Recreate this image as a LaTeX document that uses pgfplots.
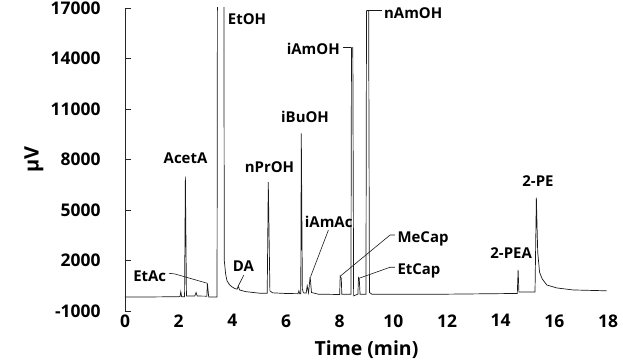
\documentclass[border=0pt]{standalone}
\usepackage{fontspec}
\setmainfont{Open Sans}
\usepackage{pgfplots}
\pgfplotsset{compat=1.18}
\begin{document}
\begin{tikzpicture}
\begin{axis}[
  name=ax,
  scale only axis,
  width=483bp, height=303bp,
  xmin=0, xmax=18, ymin=-1000, ymax=17000,
  axis lines=left,
  x axis line style={draw=none},
  y axis line style={-, draw=black!85, line width=0.8pt},
  xtick={0,2,4,6,8,10,12,14,16,18},
  xticklabels={0,2,4,6,8,10,12,14,16,18},
  x tick style={draw=none},
  ytick={-1000,2000,5000,8000,11000,14000,17000},
  yticklabels={-1000,2000,5000,8000,11000,14000,17000},
  y tick style={draw=black!85, line width=0.8pt},
  tick align=inside,
  major tick length=6bp,
  ticklabel style={font=\fontsize{17.5}{20}\selectfont\bfseries},
  yticklabel style={anchor=east, xshift=-21bp},
  xlabel={Time (min)},
  ylabel={\textmu V},
  every axis x label/.style={at={(rel axis cs:0.5,0)}, yshift=-39bp, anchor=center, font=\fontsize{19.5}{22}\selectfont\bfseries},
  every axis y label/.style={at={(rel axis cs:0,0.5)}, xshift=-91bp, rotate=90, anchor=center, font=\fontsize{20}{22}\selectfont\bfseries},
]
\addplot[black!90, line width=0.7pt, mark=none] coordinates {
(0,-170) (1.0,-165) (2.0,-150) (2.05,-140) (2.08,150) (2.11,-150)
(2.22,-150) (2.25,6980) (2.29,-110) (2.6,-110) (2.65,100) (2.69,-110)
(3.05,-120) (3.07,646) (3.12,-170) (3.43,-170) (3.45,25000) (3.68,25000)
(3.70,2000) (3.75,1200) (3.8,800) (3.9,550) (4.0,420) (4.1,330) (4.18,300)
(4.22,480) (4.27,250) (4.5,150) (5.0,60) (5.3,50) (5.34,6650) (5.4,200)
(5.5,80) (6.0,40) (6.45,30) (6.48,200) (6.51,30) (6.55,30) (6.57,9550)
(6.61,300) (6.65,80) (6.75,60) (6.79,500) (6.84,80) (6.9,1040) (6.95,100)
(7.2,0) (8.0,-20) (8.02,1080) (8.06,950) (8.08,0) (8.42,0) (8.44,14645)
(8.49,14645) (8.52,-100) (8.6,-50) (8.68,0) (8.70,980) (8.73,900) (8.76,0)
(8.98,0) (9.0,16840) (9.08,16840) (9.11,100) (9.2,0) (12.0,0) (14.5,40)
(14.62,40) (14.65,1440) (14.68,130) (15.28,130) (15.33,5730) (15.38,2500)
(15.45,1300) (15.55,900) (15.72,545) (16.09,370) (16.7,250) (17.95,200)
};
% leader lines
\draw[black!90, line width=0.6pt] (axis cs:1.64,1240) -- (axis cs:1.86,1200) -- (axis cs:3.07,646);
\draw[black!90, line width=0.6pt] (axis cs:4.43,1140) -- (axis cs:4.22,480);
\draw[black!90, line width=0.6pt] (axis cs:7.58,3810) -- (axis cs:6.92,1050);
\draw[black!90, line width=0.6pt] (axis cs:10.06,3515) -- (axis cs:9.88,3515) -- (axis cs:8.03,1080);
\draw[black!90, line width=0.6pt] (axis cs:10.06,1600) -- (axis cs:9.88,1600) -- (axis cs:8.72,943);
\draw[black!90, line width=0.6pt] (axis cs:8.14,14645) -- (axis cs:8.44,14645);
\draw[black!90, line width=0.6pt] (axis cs:9.0,16840) -- (axis cs:9.58,16840);
% labels
\begin{scope}[every node/.style={font=\fontsize{15}{17}\selectfont\bfseries, inner sep=0pt}]
\node[anchor=west] at (axis cs:3.83,16320) {EtOH};
\node[anchor=east] at (axis cs:8.01,14570) {iAmOH};
\node[anchor=west] at (axis cs:9.65,16700) {nAmOH};
\node at (axis cs:6.71,10527) {iBuOH};
\node at (axis cs:2.255,8090) {AcetA};
\node at (axis cs:5.385,7556) {nPrOH};
\node at (axis cs:0.92,1080) {EtAc};
\node at (axis cs:4.41,1674) {DA};
\node at (axis cs:7.59,4290) {iAmAc};
\node[anchor=west] at (axis cs:10.15,3290) {MeCap};
\node[anchor=west] at (axis cs:10.15,1377) {EtCap};
\node at (axis cs:14.39,2446) {2-PEA};
\node at (axis cs:15.39,6724) {2-PE};
\end{scope}
\end{axis}
\pgfresetboundingbox
\path[use as bounding box] ([shift={(-125bp,-52bp)}]ax.south west) rectangle ([shift={(498bp,311bp)}]ax.south west);
\end{tikzpicture}
\end{document}
